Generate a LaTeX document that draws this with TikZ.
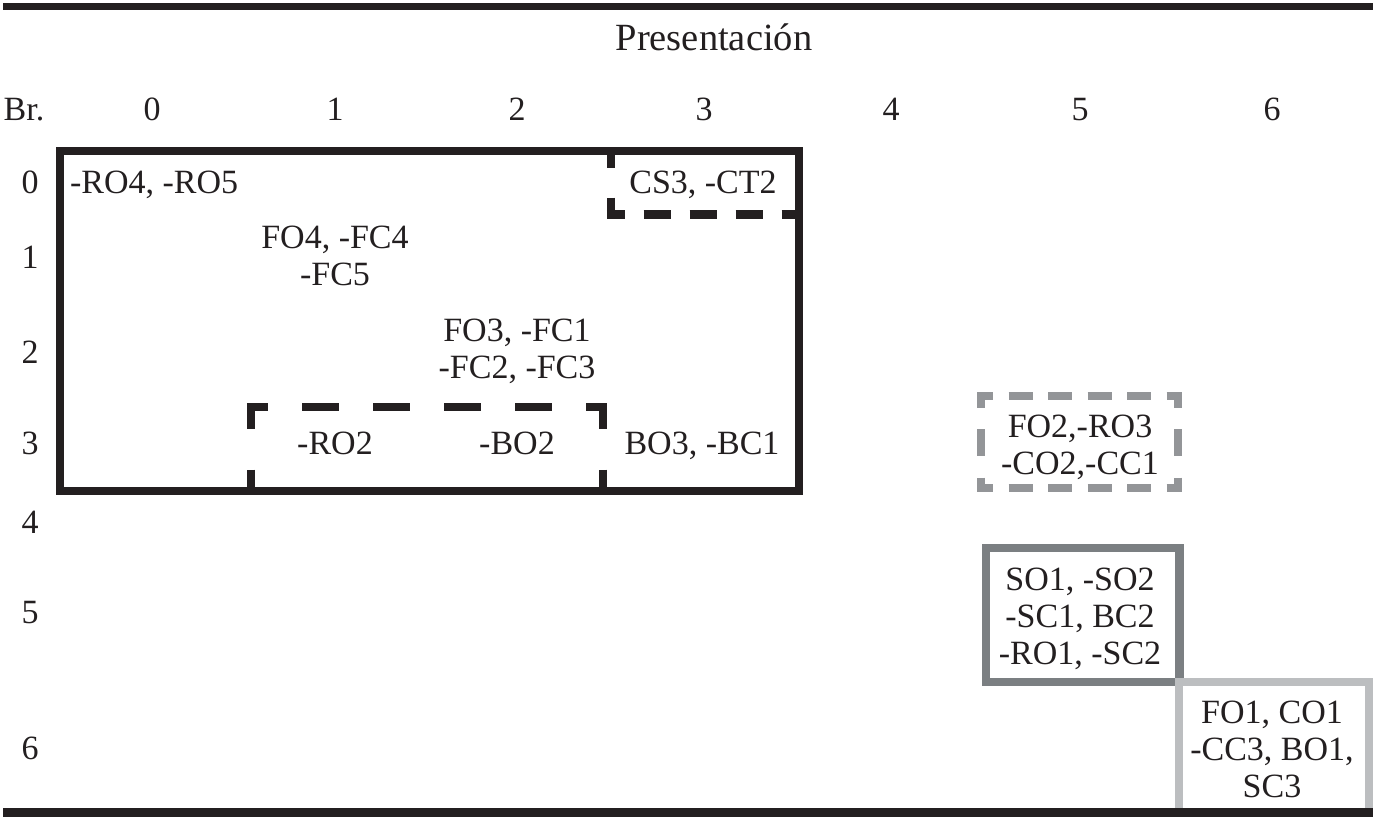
\documentclass[tikz,border=0pt]{standalone}
\usepackage{fontspec}
\setmainfont{Liberation Serif}
\definecolor{ink}{HTML}{231F20}
\definecolor{midgray}{HTML}{939598}
\definecolor{darkgray}{HTML}{7B7F82}
\definecolor{lightgray}{HTML}{BCBEC0}
\begin{document}
\begin{tikzpicture}[x=1pt,y=-1pt,
  lbl/.style={inner sep=0pt,outer sep=0pt,anchor=base,align=center,text=ink,
    font=\fontsize{34}{37}\selectfont},
  rule/.style={draw=ink,line cap=butt},
  frame/.style={draw=ink,line width=8.5pt,line join=miter},
  dsh/.style={draw=ink,line width=8.5pt,line cap=butt},
  gdsh/.style={draw=midgray,line width=8pt,line cap=butt}]
\useasboundingbox (0,0) rectangle (1376,819);
% rules
\draw[rule,line width=7pt] (3,6.5) -- (1373,6.5);
% header
\node[lbl,font=\fontsize{38.5}{42}\selectfont] (pres) at (714,50) {Presentación};
\node[lbl] (br) at (24,120) {Br.};
\node[lbl] (c0) at (152,120) {0};
\node[lbl] (c1) at (335,120) {1};
\node[lbl] (c2) at (517,120) {2};
\node[lbl] (c3) at (704,120) {3};
\node[lbl] (c4) at (891,120) {4};
\node[lbl] (c5) at (1080,120) {5};
\node[lbl] (c6) at (1272,120) {6};
% row labels
\node[lbl] (r0) at (30,193) {0};
\node[lbl] (r1) at (30,268) {1};
\node[lbl] (r2) at (30,363) {2};
\node[lbl] (r3) at (30,454) {3};
\node[lbl] (r4) at (30,533) {4};
\node[lbl] (r5) at (30,623) {5};
\node[lbl] (r6) at (30,759) {6};
% main box
\draw[frame] (60,151) rectangle (799,491);
% CS3 dashed box
\draw[dsh,dash pattern=on 27.5pt off 18.5pt,dash phase=9.25pt] (606.75,214.5) -- (799,214.5);
\draw[dsh,dash pattern=on 17pt off 29.5pt] (611,151) -- (611,214.5);
% RO2 dashed box
\draw[dsh,dash pattern=on 37pt off 34pt,dash phase=15.75pt] (246.75,407) -- (607.25,407);
\draw[dsh,dash pattern=on 21.5pt off 41pt] (251,407) -- (251,491);
\draw[dsh,dash pattern=on 21.5pt off 41pt] (603,407) -- (603,491);
% gray dashed box
\draw[gdsh,dash pattern=on 24pt off 15.5pt,dash phase=8pt] (977,396) -- (1181.5,396);
\draw[gdsh,dash pattern=on 24pt off 15.5pt,dash phase=8pt] (977,488) -- (1181.5,488);
\draw[gdsh,dash pattern=on 27pt off 21.5pt,dash phase=15.5pt] (981,396) -- (981,488);
\draw[gdsh,dash pattern=on 27pt off 21.5pt,dash phase=15.5pt] (1177.5,396) -- (1177.5,488);
% dark gray box
\draw[draw=darkgray,line width=8.5pt,line join=miter] (986,548) rectangle (1179.5,682);
% light gray box
\draw[draw=lightgray,line width=8.5pt,line join=miter] (1179,812) -- (1179,682) -- (1369,682) -- (1369,812);
\draw[rule,line width=9pt] (3,812.5) -- (1373,812.5);
% cell texts (base anchor = baseline of last line)
\node[lbl,anchor=base west] (ro45) at (70,193) {-RO4, -RO5};
\node[lbl] (fo4) at (335,285) {FO4, -FC4\\-FC5};
\node[lbl] (fo3) at (517,378.5) {FO3, -FC1\\-FC2, -FC3};
\node[lbl] (cs3) at (703,193) {CS3, -CT2};
\node[lbl] (ro2) at (335,454) {-RO2};
\node[lbl] (bo2) at (517,454) {-BO2};
\node[lbl] (bo3) at (702,454) {BO3, -BC1};
\node[lbl] (fo2) at (1080,474) {FO2,-RO3\\-CO2,-CC1};
\node[lbl] (so1) at (1080,664) {SO1, -SO2\\-SC1, BC2\\-RO1, -SC2};
\node[lbl] (fo1) at (1272,797) {FO1, CO1\\-CC3, BO1,\\SC3};
\end{tikzpicture}
\end{document}
